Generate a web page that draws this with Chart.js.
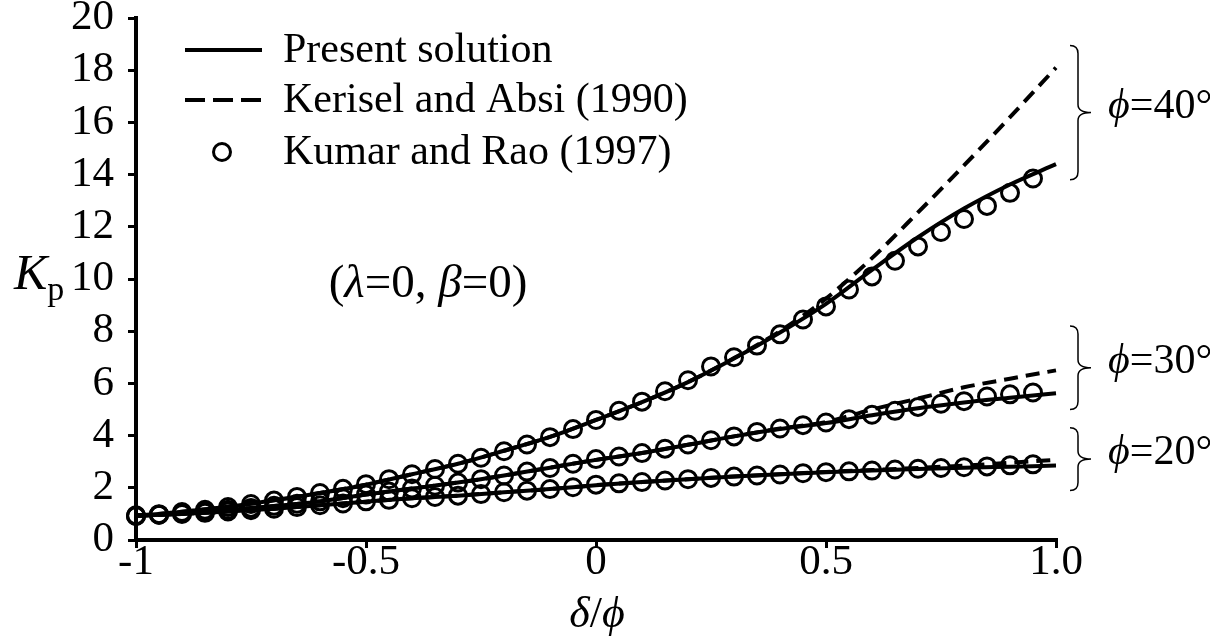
<!DOCTYPE html>
<html>
<head>
<meta charset="utf-8">
<script src="https://cdn.jsdelivr.net/npm/chart.js@4.4.0/dist/chart.umd.min.js"></script>
<style>
  html, body { margin: 0; padding: 0; background: #fff; }
  #wrap { width: 1210px; height: 642px; position: relative; }
</style>
</head>
<body>
<div id="wrap"><canvas id="kpChart"></canvas></div>
<script>
// delta/phi tick labels on the x axis
const xTickLabels = ['-1', '-0.5', '0', '0.5', '1.0'];

// x positions of the two line solutions
const lineX = [-1.0, -0.9, -0.8, -0.7, -0.6, -0.5, -0.4, -0.3, -0.2, -0.1, 0.0,
               0.1, 0.2, 0.3, 0.4, 0.5, 0.6, 0.7, 0.8, 0.9, 1.0];

const present40 = [0.92, 1.08, 1.27, 1.52, 1.80, 2.12, 2.52, 2.92, 3.42, 3.95, 4.60,
                   5.28, 6.05, 6.95, 7.95, 9.05, 10.35, 11.60, 12.70, 13.62, 14.40];
const kerisel40 = [0.92, 1.08, 1.27, 1.52, 1.80, 2.12, 2.52, 2.92, 3.42, 3.95, 4.60,
                   5.28, 6.05, 6.97, 8.00, 9.25, 10.80, 12.55, 14.35, 16.20, 18.10];

const present30 = [0.92, 1.02, 1.15, 1.30, 1.48, 1.74, 1.97, 2.20, 2.47, 2.77, 3.07,
                   3.33, 3.65, 3.97, 4.25, 4.48, 4.78, 5.05, 5.27, 5.45, 5.62];
const kerisel30 = [0.92, 1.02, 1.15, 1.30, 1.48, 1.74, 1.97, 2.20, 2.47, 2.77, 3.07,
                   3.33, 3.65, 3.97, 4.27, 4.52, 5.00, 5.42, 5.85, 6.18, 6.50];

const present20 = [0.95, 1.00, 1.09, 1.20, 1.33, 1.47, 1.60, 1.70, 1.83, 1.95, 2.10,
                   2.22, 2.33, 2.43, 2.52, 2.60, 2.66, 2.72, 2.77, 2.81, 2.85];
const kerisel20 = [0.95, 1.00, 1.09, 1.20, 1.33, 1.47, 1.60, 1.70, 1.83, 1.95, 2.10,
                   2.22, 2.33, 2.43, 2.52, 2.61, 2.68, 2.76, 2.85, 2.96, 3.07];

// Kumar and Rao (1997) circles
const circleX = [-1.00, -0.95, -0.90, -0.85, -0.80, -0.75, -0.70, -0.65, -0.60, -0.55,
                 -0.50, -0.45, -0.40, -0.35, -0.30, -0.25, -0.20, -0.15, -0.10, -0.05,
                 0.00, 0.05, 0.10, 0.15, 0.20, 0.25, 0.30, 0.35, 0.40, 0.45,
                 0.50, 0.55, 0.60, 0.65, 0.70, 0.75, 0.80, 0.85, 0.90, 0.95];
const kumar40 = [0.92, 0.99, 1.07, 1.16, 1.26, 1.38, 1.51, 1.65, 1.80, 1.96,
                 2.14, 2.33, 2.52, 2.72, 2.92, 3.15, 3.40, 3.66, 3.94, 4.25,
                 4.60, 4.95, 5.30, 5.70, 6.12, 6.65, 7.00, 7.45, 7.88, 8.45,
                 8.95, 9.60, 10.10, 10.70, 11.25, 11.80, 12.30, 12.80, 13.30, 13.85];
const kumar30 = [0.92, 0.97, 1.03, 1.09, 1.16, 1.23, 1.31, 1.39, 1.48, 1.60,
                 1.74, 1.86, 1.97, 2.08, 2.20, 2.33, 2.47, 2.62, 2.76, 2.92,
                 3.10, 3.20, 3.33, 3.50, 3.66, 3.82, 3.97, 4.14, 4.27, 4.40,
                 4.50, 4.63, 4.80, 4.95, 5.10, 5.22, 5.32, 5.50, 5.58, 5.65];
const kumar20 = [0.95, 0.97, 1.00, 1.04, 1.09, 1.14, 1.20, 1.26, 1.33, 1.40,
                 1.48, 1.54, 1.60, 1.65, 1.70, 1.76, 1.83, 1.89, 1.95, 2.02,
                 2.12, 2.17, 2.22, 2.28, 2.33, 2.38, 2.43, 2.47, 2.51, 2.56,
                 2.60, 2.63, 2.66, 2.70, 2.73, 2.76, 2.79, 2.82, 2.86, 2.90];

const SERIF = "'Liberation Serif', 'Times New Roman', serif";

function pts(xs, ys) {
  return xs.map((x, i) => ({ x: x, y: ys[i] }));
}

function solid(data) {
  return { data: data, borderColor: '#000', borderWidth: 4, pointRadius: 0,
           cubicInterpolationMode: 'monotone', fill: false, clip: false };
}
function dashed(data) {
  return { data: data, borderColor: '#000', borderWidth: 4, borderDash: [14, 8], pointRadius: 0,
           cubicInterpolationMode: 'monotone', fill: false, clip: false };
}
function circles(data) {
  return { data: data, showLine: false, pointStyle: 'circle', pointRadius: 8.5,
           pointBorderWidth: 3, pointBorderColor: '#000',
           pointBackgroundColor: 'rgba(0,0,0,0)', clip: false };
}

// draw a row of text pieces, some italic
function drawRuns(ctx, runs, x, y, align) {
  let total = 0;
  runs.forEach(r => {
    ctx.font = (r.it ? 'italic ' : '') + r.size + 'px ' + SERIF;
    r.w = ctx.measureText(r.t).width;
    total += r.w;
  });
  let cx = align === 'center' ? x - total / 2 : x;
  runs.forEach(r => {
    ctx.font = (r.it ? 'italic ' : '') + r.size + 'px ' + SERIF;
    ctx.fillText(r.t, cx, y + (r.dy || 0));
    cx += r.w;
  });
}

function drawBrace(ctx, x, yTop, yBot) {
  const mid = (yTop + yBot) / 2, r = 8, w = 13;
  ctx.beginPath();
  ctx.moveTo(x - r, yTop);
  ctx.quadraticCurveTo(x, yTop, x, yTop + r);
  ctx.lineTo(x, mid - r);
  ctx.quadraticCurveTo(x, mid, x + w, mid);
  ctx.quadraticCurveTo(x, mid, x, mid + r);
  ctx.lineTo(x, yBot - r);
  ctx.quadraticCurveTo(x, yBot, x - r, yBot);
  ctx.stroke();
}

const annotations = {
  id: 'annotations',
  afterDraw(chart) {
    const ctx = chart.ctx;
    const ys = chart.scales.y;
    ctx.save();
    ctx.fillStyle = '#000';
    ctx.strokeStyle = '#000';
    ctx.textBaseline = 'middle';
    ctx.textAlign = 'left';

    // legend
    ctx.lineWidth = 4;
    ctx.beginPath(); ctx.moveTo(185, 50); ctx.lineTo(262, 50); ctx.stroke();
    ctx.setLineDash([20, 8]);
    ctx.beginPath(); ctx.moveTo(185, 100); ctx.lineTo(262, 100); ctx.stroke();
    ctx.setLineDash([]);
    ctx.lineWidth = 3;
    ctx.beginPath(); ctx.arc(222, 152, 8.5, 0, Math.PI * 2); ctx.stroke();
    ctx.font = '42px ' + SERIF;
    ctx.fillText('Present solution', 283, 51);
    ctx.fillText('Kerisel and Absi (1990)', 283, 101);
    ctx.fillText('Kumar and Rao (1997)', 283, 153);

    // parameter note
    drawRuns(ctx, [
      { t: '(', size: 47 }, { t: 'λ', size: 47, it: true }, { t: '=0, ', size: 47 },
      { t: 'β', size: 47, it: true }, { t: '=0)', size: 47 }
    ], 428, 285, 'center');

    // axis titles
    drawRuns(ctx, [{ t: 'K', size: 50, it: true }, { t: 'p', size: 34, dy: 15 }], 14, 276, 'left');
    drawRuns(ctx, [{ t: 'δ', size: 44, it: true }, { t: '/', size: 44 }, { t: 'ϕ', size: 44, it: true }],
             597, 615, 'center');

    // braces with friction angle labels
    ctx.lineWidth = 1.5;
    const groups = [[13.8, 18.95, '40°'], [5.0, 8.2, '30°'], [1.9, 4.3, '20°']];
    groups.forEach(g => {
      const top = ys.getPixelForValue(g[1]);
      const bot = ys.getPixelForValue(g[0]);
      drawBrace(ctx, 1078, top, bot);
      drawRuns(ctx, [{ t: 'ϕ', size: 42, it: true }, { t: '=' + g[2], size: 42 }],
               1108, (top + bot) / 2 - 6, 'left');
    });
    ctx.restore();
  }
};

Chart.defaults.color = '#000';
Chart.defaults.font.family = SERIF;

const ctx = document.getElementById('kpChart').getContext('2d');
const kpChart = new Chart(ctx, {
  type: 'line',
  data: {
    datasets: [
      solid(pts(lineX, present40)), dashed(pts(lineX, kerisel40)), circles(pts(circleX, kumar40)),
      solid(pts(lineX, present30)), dashed(pts(lineX, kerisel30)), circles(pts(circleX, kumar30)),
      solid(pts(lineX, present20)), dashed(pts(lineX, kerisel20)), circles(pts(circleX, kumar20))
    ]
  },
  options: {
    responsive: true,
    maintainAspectRatio: false,
    animation: false,
    layout: { padding: { left: 0, top: 18, right: 154, bottom: 0 } },
    scales: {
      x: {
        type: 'linear', min: -1, max: 1,
        grid: { drawOnChartArea: false, drawTicks: true, tickLength: 8, color: '#000', lineWidth: 3 },
        border: { color: '#000', width: 4 },
        ticks: {
          stepSize: 0.5, padding: -11, maxRotation: 0, autoSkip: false,
          font: { size: 43, family: SERIF },
          callback: function (value) {
            return xTickLabels[Math.round((value + 1) / 0.5)];
          }
        },
        afterFit: function (scale) { scale.height = 102; scale.paddingLeft = 0; scale.paddingRight = 0; }
      },
      y: {
        min: 0, max: 20,
        grid: { drawOnChartArea: false, drawTicks: true, tickLength: 8, color: '#000', lineWidth: 3 },
        border: { color: '#000', width: 4 },
        ticks: { stepSize: 2, padding: 14, autoSkip: false, font: { size: 43, family: SERIF } },
        afterFit: function (scale) { scale.width = 136; scale.paddingTop = 0; scale.paddingBottom = 0; }
      }
    },
    plugins: {
      legend: { display: false },
      tooltip: { enabled: false }
    }
  },
  plugins: [annotations]
});
</script>
</body>
</html>
